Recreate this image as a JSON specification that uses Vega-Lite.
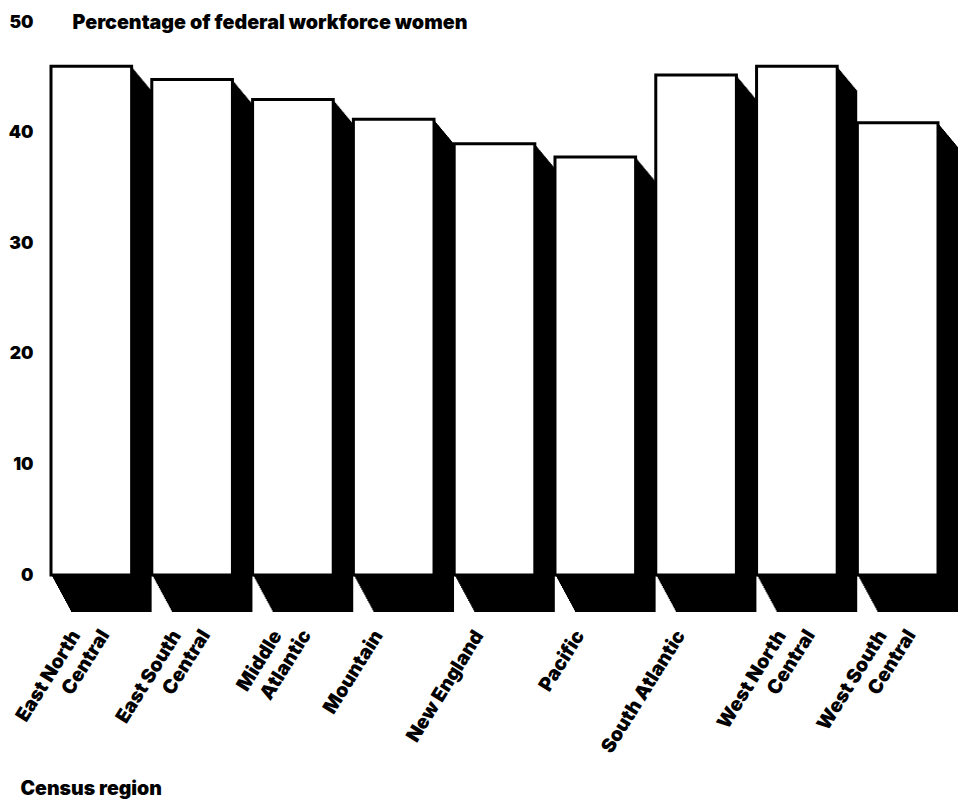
{
  "$schema": "https://vega.github.io/schema/vega-lite/v6.json",
  "autosize": {"type": "none"},
  "padding": {"left": 51, "top": 22, "right": 22, "bottom": 228},
  "width": 887,
  "height": 553,
  "background": "white",
  "data": {
    "values": [
      {"region": "East North Central", "pct": 46.0, "line2": "Central"},
      {"region": "East South Central", "pct": 44.8, "line2": "Central"},
      {"region": "Middle Atlantic", "pct": 43.0, "line2": "Atlantic"},
      {"region": "Mountain", "pct": 41.2, "line2": ""},
      {"region": "New England", "pct": 39.0, "line2": ""},
      {"region": "Pacific", "pct": 37.8, "line2": ""},
      {"region": "South Atlantic", "pct": 45.2, "line2": ""},
      {"region": "West North Central", "pct": 46.0, "line2": "Central"},
      {"region": "West South Central", "pct": 40.9, "line2": "Central"}
    ]
  },
  "encoding": {
    "x": {
      "field": "region",
      "type": "nominal",
      "sort": null,
      "scale": {"paddingInner": 0.2, "paddingOuter": 0},
      "axis": {
        "title": "Census region",
        "titleAnchor": "start",
        "titleAlign": "left",
        "titleBaseline": "middle",
        "titleX": -31,
        "titleY": 213,
        "titleFont": "Inter",
        "titleFontSize": 19.5,
        "titleFontWeight": 900,
        "titleColor": "black",
        "domain": false,
        "ticks": false,
        "labelAngle": -58,
        "labelAlign": "right",
        "labelBaseline": "top",
        "labelPadding": 52,
        "labelOffset": -23,
        "labelFont": "Inter",
        "labelFontSize": 19.5,
        "labelFontWeight": 900,
        "labelColor": "black",
        "labelOverlap": false,
        "labelLimit": 0,
        "labelExpr": "datum.value == 'East North Central' ? 'East North' : datum.value == 'East South Central' ? 'East South' : datum.value == 'Middle Atlantic' ? 'Middle' : datum.value == 'West North Central' ? 'West North' : datum.value == 'West South Central' ? 'West South' : datum.value"
      }
    },
    "y": {
      "field": "pct",
      "type": "quantitative",
      "scale": {"domain": [0, 50], "nice": false},
      "axis": {
        "title": "Percentage of federal workforce women",
        "titleAngle": 0,
        "titleAlign": "left",
        "titleBaseline": "middle",
        "titleX": 21,
        "titleY": 0,
        "titleFont": "Inter",
        "titleFontSize": 19.7,
        "titleFontWeight": 900,
        "titleColor": "black",
        "values": [0, 10, 20, 30, 40, 50],
        "domain": false,
        "ticks": false,
        "grid": false,
        "labelPadding": 18,
        "labelFont": "Inter",
        "labelFontSize": 17.5,
        "labelFontWeight": 900,
        "labelColor": "black"
      }
    },
    "y2": {"datum": 0}
  },
  "layer": [
    {"mark": {"type": "bar", "color": "black", "xOffset": 1, "yOffset": 1.2, "y2Offset": 1.85}},
    {"mark": {"type": "bar", "color": "black", "xOffset": 2, "yOffset": 2.4, "y2Offset": 3.7}},
    {"mark": {"type": "bar", "color": "black", "xOffset": 3, "yOffset": 3.6, "y2Offset": 5.55}},
    {"mark": {"type": "bar", "color": "black", "xOffset": 4, "yOffset": 4.8, "y2Offset": 7.4}},
    {"mark": {"type": "bar", "color": "black", "xOffset": 5, "yOffset": 6, "y2Offset": 9.25}},
    {"mark": {"type": "bar", "color": "black", "xOffset": 6, "yOffset": 7.2, "y2Offset": 11.1}},
    {"mark": {"type": "bar", "color": "black", "xOffset": 7, "yOffset": 8.4, "y2Offset": 12.95}},
    {"mark": {"type": "bar", "color": "black", "xOffset": 8, "yOffset": 9.6, "y2Offset": 14.8}},
    {"mark": {"type": "bar", "color": "black", "xOffset": 9, "yOffset": 10.8, "y2Offset": 16.65}},
    {"mark": {"type": "bar", "color": "black", "xOffset": 10, "yOffset": 12, "y2Offset": 18.5}},
    {"mark": {"type": "bar", "color": "black", "xOffset": 11, "yOffset": 13.2, "y2Offset": 20.35}},
    {"mark": {"type": "bar", "color": "black", "xOffset": 12, "yOffset": 14.4, "y2Offset": 22.2}},
    {"mark": {"type": "bar", "color": "black", "xOffset": 13, "yOffset": 15.6, "y2Offset": 24.05}},
    {"mark": {"type": "bar", "color": "black", "xOffset": 14, "yOffset": 16.8, "y2Offset": 25.9}},
    {"mark": {"type": "bar", "color": "black", "xOffset": 15, "yOffset": 18, "y2Offset": 27.75}},
    {"mark": {"type": "bar", "color": "black", "xOffset": 16, "yOffset": 19.2, "y2Offset": 29.6}},
    {"mark": {"type": "bar", "color": "black", "xOffset": 17, "yOffset": 20.4, "y2Offset": 31.45}},
    {"mark": {"type": "bar", "color": "black", "xOffset": 18, "yOffset": 21.6, "y2Offset": 33.3}},
    {"mark": {"type": "bar", "color": "black", "xOffset": 19, "yOffset": 22.8, "y2Offset": 35.15}},
    {"mark": {"type": "bar", "color": "black", "xOffset": 20, "yOffset": 24, "y2Offset": 37}},
    {"mark": {"type": "bar", "fill": "white", "stroke": "black", "strokeWidth": 3}},
    {
      "mark": {
        "type": "text",
        "angle": -58,
        "align": "right",
        "baseline": "top",
        "font": "Inter",
        "fontSize": 19.5,
        "fontWeight": 900,
        "color": "black",
        "xOffset": 6,
        "yOffset": 52
      },
      "encoding": {
        "y": {"datum": 0},
        "y2": null,
        "text": {"field": "line2"}
      }
    }
  ],
  "config": {"view": {"stroke": null}}
}
